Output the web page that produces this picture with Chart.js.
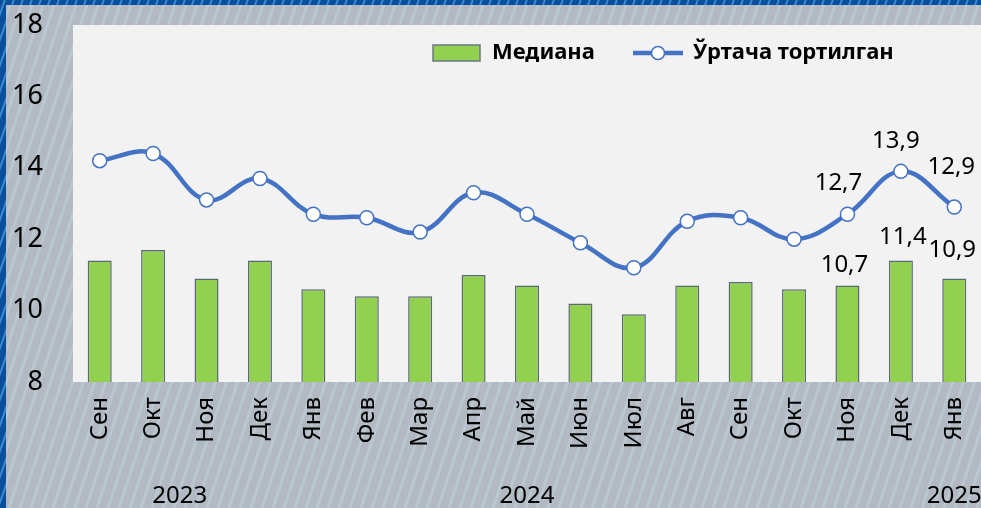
<!DOCTYPE html>
<html lang="uz">
<head>
    <meta charset="UTF-8">
    <title>Медиана ва ўртача тортилган</title>
    <script src="https://cdn.jsdelivr.net/npm/chart.js@4"></script>
    <style>
        body, html {
            margin: 0;
            padding: 0;
            background: #0b4f9c;
        }
        #chart {
            display: block;
        }
    </style>
</head>
<body>
    <canvas id="chart" width="981" height="508"></canvas>

    <script>
        // Data
        const months = ['Сен', 'Окт', 'Ноя', 'Дек', 'Янв', 'Фев', 'Мар', 'Апр', 'Май', 'Июн', 'Июл', 'Авг', 'Сен', 'Окт', 'Ноя', 'Дек', 'Янв'];
        const median = [11.4, 11.7, 10.9, 11.4, 10.6, 10.4, 10.4, 11.0, 10.7, 10.2, 9.9, 10.7, 10.8, 10.6, 10.7, 11.4, 10.9];
        const weighted = [14.2, 14.4, 13.1, 13.7, 12.7, 12.6, 12.2, 13.3, 12.7, 11.9, 11.2, 12.5, 12.6, 12.0, 12.7, 13.9, 12.9];
        const years = ['2023', '2024', '2025'];
        const yearAt = [1.5, 8, 16];          // category index under which each year sits
        const labelled = [14, 15, 16];        // points that carry a value label
        const seriesNames = ['Медиана', 'Ўртача тортилган'];

        const FONT = "'Noto Sans', sans-serif";
        const BLUE = '#4472c4';
        const GREEN = '#92d050';
        const fmt = v => v.toFixed(1).replace('.', ',');

        // Striped backdrop and light plot panel
        const backdrop = {
            id: 'backdrop',
            beforeDraw(chart) {
                const { ctx, width, height, chartArea: a } = chart;
                ctx.save();
                ctx.fillStyle = '#0b4f9c';
                ctx.fillRect(0, 0, width, height);
                ctx.strokeStyle = 'rgba(90,180,240,0.6)';
                ctx.lineWidth = 2;
                for (let x = -200; x < width + 50; x += 9) {
                    ctx.beginPath();
                    ctx.moveTo(x, height);
                    ctx.lineTo(x + height * 0.35, 0);
                    ctx.stroke();
                }
                ctx.fillStyle = '#b2b9c3';
                ctx.fillRect(6, 5, width - 6, height - 5);
                ctx.beginPath();
                ctx.rect(6, 5, width - 6, height - 5);
                ctx.clip();
                ctx.strokeStyle = 'rgba(200,225,235,0.35)';
                ctx.lineWidth = 3;
                for (let x = -200; x < width + 50; x += 11) {
                    ctx.beginPath();
                    ctx.moveTo(x, height);
                    ctx.lineTo(x + height * 0.33, 0);
                    ctx.stroke();
                }
                ctx.restore();
                ctx.fillStyle = '#f2f2f2';
                ctx.fillRect(a.left, a.top, a.right - a.left, a.bottom - a.top);
            }
        };

        // Value labels on the last three months (offsets as placed in the source)
        const valueLabels = {
            id: 'valueLabels',
            afterDatasetsDraw(chart) {
                const { ctx } = chart;
                const shifts = [
                    [[-3, -20], [2, -23], [-2, -28]],    // bars
                    [[-9, -31], [-5, -30], [-3, -40]]    // line
                ];
                ctx.save();
                ctx.font = '24px ' + FONT;
                ctx.fillStyle = '#000';
                ctx.textAlign = 'center';
                ctx.textBaseline = 'middle';
                [0, 1].forEach(ds => {
                    const meta = chart.getDatasetMeta(ds);
                    const vals = chart.data.datasets[ds].data;
                    labelled.forEach((i, k) => {
                        const el = meta.data[i];
                        const [dx, dy] = shifts[ds][k];
                        ctx.fillText(fmt(vals[i]), el.x + dx, el.y + dy);
                    });
                });
                ctx.restore();
            }
        };

        // Year row under the month ticks
        const yearRow = {
            id: 'yearRow',
            afterDraw(chart) {
                const { ctx, scales: { x } } = chart;
                ctx.save();
                ctx.font = '24px ' + FONT;
                ctx.fillStyle = '#000';
                ctx.textAlign = 'center';
                ctx.textBaseline = 'middle';
                years.forEach((y, i) => {
                    const lo = Math.floor(yearAt[i]), hi = Math.ceil(yearAt[i]);
                    const px = (x.getPixelForValue(lo) + x.getPixelForValue(hi)) / 2;
                    ctx.fillText(y, px, 496);
                });
                ctx.restore();
            }
        };

        // Legend inside the plot panel, top right
        const panelLegend = {
            id: 'panelLegend',
            afterDraw(chart) {
                const { ctx } = chart;
                const cy = 53;
                ctx.save();
                ctx.fillStyle = GREEN;
                ctx.strokeStyle = '#6b7785';
                ctx.lineWidth = 1.5;
                ctx.fillRect(433, cy - 8, 47, 16);
                ctx.strokeRect(433, cy - 8, 47, 16);
                ctx.strokeStyle = BLUE;
                ctx.lineWidth = 4.5;
                ctx.beginPath();
                ctx.moveTo(633, cy);
                ctx.lineTo(683, cy);
                ctx.stroke();
                ctx.fillStyle = '#fff';
                ctx.lineWidth = 1.5;
                ctx.beginPath();
                ctx.arc(658, cy, 6.5, 0, Math.PI * 2);
                ctx.fill();
                ctx.stroke();
                ctx.font = 'bold 22px ' + FONT;
                ctx.fillStyle = '#000';
                ctx.textBaseline = 'middle';
                ctx.fillText(seriesNames[0], 492, cy);
                ctx.fillText(seriesNames[1], 693, cy);
                ctx.restore();
            }
        };

        new Chart(document.getElementById('chart'), {
            data: {
                labels: months,
                datasets: [
                    {
                        type: 'bar',
                        label: seriesNames[0],
                        data: median,
                        backgroundColor: GREEN,
                        borderColor: '#5a6878',
                        borderWidth: 1.5,
                        barPercentage: 0.45,
                        categoryPercentage: 1,
                        order: 1
                    },
                    {
                        type: 'line',
                        label: seriesNames[1],
                        data: weighted,
                        borderColor: BLUE,
                        borderWidth: 4.5,
                        tension: 0.4,
                        pointRadius: 7,
                        pointBorderWidth: 1.5,
                        pointBackgroundColor: '#fff',
                        pointBorderColor: BLUE,
                        order: 0
                    }
                ]
            },
            options: {
                responsive: false,
                animation: false,
                events: [],
                layout: { autoPadding: false, padding: { top: 25, right: 0, left: 0, bottom: 0 } },
                plugins: {
                    legend: { display: false },
                    tooltip: { enabled: false }
                },
                scales: {
                    x: {
                        grid: { display: false, drawTicks: false },
                        border: { display: false },
                        ticks: {
                            color: '#000',
                            font: { family: FONT, size: 24 },
                            minRotation: 90,
                            maxRotation: 90,
                            padding: 15,
                            autoSkip: false
                        },
                        afterFit(s) {
                            s.height = 126;
                            s.paddingLeft = 0;
                            s.paddingRight = 0;
                        }
                    },
                    y: {
                        min: 8,
                        max: 18,
                        grid: { display: false, drawTicks: false },
                        border: { display: false },
                        ticks: {
                            stepSize: 2,
                            color: '#000',
                            font: { family: FONT, size: 27 },
                            padding: 30
                        },
                        afterFit(s) {
                            s.width = 73;
                            s.paddingTop = 0;
                            s.paddingBottom = 0;
                        }
                    }
                }
            },
            plugins: [backdrop, valueLabels, yearRow, panelLegend]
        });
    </script>
</body>
</html>
